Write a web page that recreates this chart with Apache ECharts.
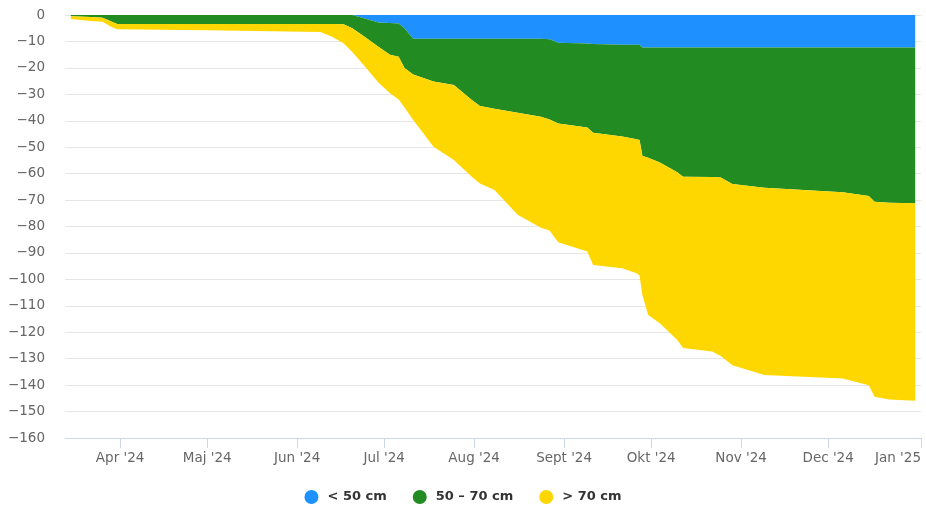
<!DOCTYPE html>
<html>
<head>
<meta charset="utf-8">
<script src="https://cdn.jsdelivr.net/npm/echarts@6/dist/echarts.min.js"></script>
<style>
  html, body { margin: 0; padding: 0; background: #fff; }
  #chart { width: 926px; height: 506px; }
</style>
</head>
<body>
<div id="chart"></div>
<script>
// dates shared by all three stacked series
var dates = [
  '2024-03-15', '2024-03-22', '2024-03-26', '2024-03-29', '2024-03-31', '2024-05-01',
  '2024-06-09', '2024-06-13', '2024-06-17', '2024-06-20', '2024-06-24', '2024-06-29',
  '2024-07-03', '2024-07-06', '2024-07-08', '2024-07-11', '2024-07-18', '2024-07-25',
  '2024-07-31', '2024-08-03', '2024-08-08', '2024-08-16', '2024-08-24', '2024-08-27',
  '2024-08-30', '2024-09-09', '2024-09-11', '2024-09-21', '2024-09-26', '2024-09-27',
  '2024-09-28', '2024-09-30', '2024-10-04', '2024-10-10', '2024-10-12', '2024-10-22',
  '2024-10-25', '2024-10-29', '2024-11-09', '2024-12-06', '2024-12-15', '2024-12-17',
  '2024-12-22', '2024-12-31'
];
// < 50 cm
var under50 = [
  0, 0, 0, 0, 0, 0,
  0, 0, 0, 0, -1.2, -2.8,
  -3.0, -3.2, -5.0, -9.0, -9.0, -9.0,
  -9.0, -9.0, -9.0, -9.0, -9.0, -9.2,
  -10.5, -10.8, -11.0, -11.3, -11.3, -11.3,
  -12.3, -12.3, -12.3, -12.3, -12.3, -12.3,
  -12.3, -12.3, -12.3, -12.3, -12.3, -12.3,
  -12.3, -12.3
];
// 50 - 70 cm
var from50to70 = [
  -0.5, -0.8, -1.0, -2.5, -3.4, -3.4,
  -3.4, -3.4, -3.5, -5.0, -6.8, -9.2,
  -12.0, -12.6, -15.0, -13.5, -16.2, -17.5,
  -23.0, -25.4, -26.5, -28.0, -29.5, -30.3,
  -30.5, -31.8, -33.5, -34.7, -35.7, -36.0,
  -41.0, -41.7, -43.5, -47.2, -48.9, -49.0,
  -49.2, -51.6, -53.0, -54.7, -56.2, -58.3,
  -58.7, -58.9
];
// > 70 cm
var over70 = [
  -1.0, -1.5, -1.6, -2.0, -2.0, -2.4,
  -3.0, -4.8, -7.2, -9.0, -11.0, -13.5,
  -14.6, -16.2, -15.0, -17.2, -24.6, -28.3,
  -29.0, -29.3, -30.7, -38.6, -42.0, -42.0,
  -45.0, -46.9, -50.1, -49.8, -50.7, -51.2,
  -52.7, -59.5, -60.8, -63.4, -64.8, -66.0,
  -67.5, -68.6, -70.9, -70.5, -71.5, -73.8,
  -74.4, -74.7
];
var seriesNames = ['< 50 cm', '50 – 70 cm', '> 70 cm'];
var seriesColors = ['#1E90FF', '#228B22', '#FFD700'];
var monthNames = ['Jan', 'Feb', 'Mar', 'Apr', 'Maj', 'Jun', 'Jul', 'Aug', 'Sept', 'Okt', 'Nov', 'Dec'];

function pairs(values) {
  return dates.map(function (d, i) { return [d, values[i]]; });
}

var chart = echarts.init(document.getElementById('chart'));
var DAY = 24 * 3600 * 1000;
var font = 'DejaVu Sans, sans-serif';

var option = {
  animation: false,
  textStyle: { fontFamily: font },
  grid: { left: 65, right: 5, top: 15, bottom: 68, containLabel: false, outerBoundsMode: 'none' },
  legend: {
    top: 485,
    left: 'center',
    icon: 'circle',
    itemWidth: 14,
    itemHeight: 14,
    itemGap: 26,
    textStyle: { fontSize: 13, fontWeight: 'bold', color: '#333', fontFamily: font, padding: [0, 0, 0, 4] },
    data: seriesNames
  },
  xAxis: {
    type: 'time',
    min: '2024-03-13',
    max: '2025-01-02',
    minInterval: 28 * DAY,
    maxInterval: 31 * DAY,
    axisLine: { onZero: false, lineStyle: { color: '#ccd6eb' } },
    axisTick: { show: true, length: 10, lineStyle: { color: '#ccd6eb' } },
    splitLine: { show: false },
    axisLabel: {
      color: '#666',
      fontSize: 13.5,
      fontFamily: font,
      margin: 13,
      showMinLabel: false,
      showMaxLabel: true,
      alignMaxLabel: 'right',
      formatter: function (val) {
        var d = new Date(val);
        return monthNames[d.getMonth()] + " '" + String(d.getFullYear()).slice(2);
      }
    }
  },
  yAxis: {
    type: 'value',
    min: -160,
    max: 0,
    interval: 10,
    axisLine: { show: false },
    axisTick: { show: false },
    splitLine: { lineStyle: { color: '#e6e6e6' } },
    axisLabel: {
      color: '#666',
      fontSize: 13.5,
      fontFamily: font,
      margin: 20,
      formatter: function (v) { return String(v).replace('-', '\u2212'); }
    }
  },
  series: [under50, from50to70, over70].map(function (vals, i) {
    return {
      name: seriesNames[i],
      type: 'line',
      stack: 'total',
      stackStrategy: 'all',
      showSymbol: false,
      symbol: 'none',
      color: seriesColors[i],
      lineStyle: { width: 0 },
      areaStyle: { color: seriesColors[i], opacity: 1 },
      data: pairs(vals)
    };
  })
};

chart.setOption(option);
</script>
</body>
</html>
